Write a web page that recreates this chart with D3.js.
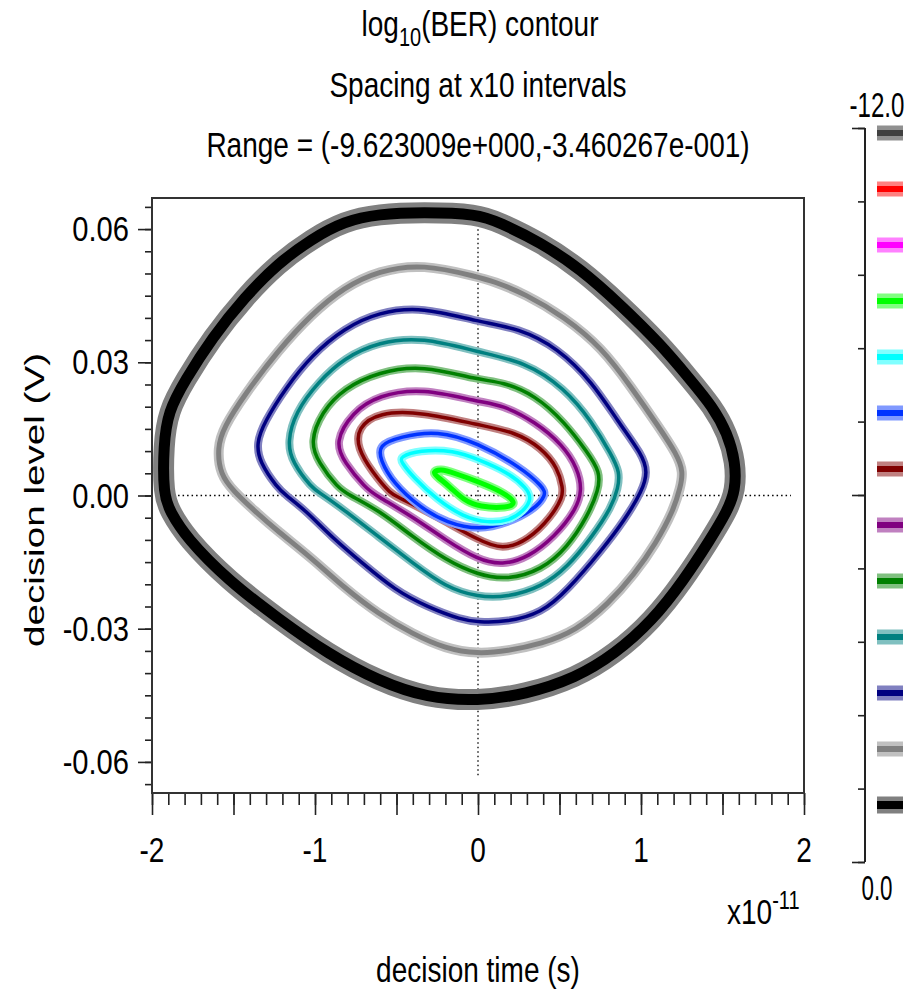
<!DOCTYPE html>
<html>
<head>
<meta charset="utf-8">
<script src="https://cdn.jsdelivr.net/npm/d3@7"></script>
<style>
  body { margin: 0; background: #fff; }
  text { font-family: "Liberation Sans", Arial, sans-serif; fill: #000; }
</style>
</head>
<body>
<div id="chart"></div>
<script>
var svgWidth = 912;
var svgHeight = 994;

var plot = { left: 152, right: 804, top: 198, bottom: 793 };

// axis domains and labels
var xDomain = [-2, 2];
var yDomain = [-0.067, 0.067];
var xTickLabels = [-2, -1, 0, 1, 2];
var yTickLabels = [0.06, 0.03, 0.00, -0.03, -0.06];

// contour levels, outermost first, with line colours (core + halo)
var levels = [0, -1, -2, -3, -4, -5, -6, -7, -8, -9, -10, -11, -12];
var coreColors = ["#000000", "#808080", "#000080", "#008080", "#008000", "#800080",
                  "#800000", "#0033ff", "#00ffff", "#00ff00", "#ff00ff", "#ff0000", "#404040"];
var haloColors = ["#808080", "#c0c0c0", "#8080c0", "#80c0c0", "#80c080", "#c080c0",
                  "#c08080", "#8099ff", "#80ffff", "#80ff80", "#ff80ff", "#ff8080", "#909090"];

// dotted crosshair
var crossV = [[0, -0.063], [0, 0.060]];
var crossH = [[-1.84, 0], [1.92, 0]];

// contour outlines: [time (x1e-11 s), level (V)]
var contour0 = [[0.00,0.0634],[-0.34,0.0638],[-0.61,0.0634],[-0.82,0.0618],[-1.02,0.0578],[-1.23,0.0522],
  [-1.43,0.0447],[-1.63,0.0356],[-1.80,0.0258],[-1.90,0.0190],[-1.93,0.0114],[-1.93,0.0001],[-1.89,-0.0035],
  [-1.79,-0.0095],[-1.53,-0.0192],[-1.23,-0.0276],[-0.92,-0.0357],[-0.61,-0.0418],[-0.31,-0.0456],[0.00,-0.0463],
  [0.29,-0.0448],[0.60,-0.0411],[0.84,-0.0357],[1.07,-0.0282],[1.26,-0.0192],[1.42,-0.0102],[1.53,-0.0035],
  [1.58,0.0012],[1.58,0.0075],[1.53,0.0140],[1.44,0.0200],[1.30,0.0262],[1.12,0.0341],[0.87,0.0431],
  [0.63,0.0510],[0.38,0.0571],[0.13,0.0615]];
var contour1 = [[0.00,0.0492],[-0.34,0.0522],[-0.61,0.0506],[-0.82,0.0469],[-1.02,0.0409],[-1.23,0.0325],
  [-1.43,0.0228],[-1.56,0.0154],[-1.60,0.0107],[-1.58,0.0046],[-1.50,0.0010],[-1.37,-0.0035],[-1.23,-0.0080],
  [-1.02,-0.0141],[-0.82,-0.0208],[-0.61,-0.0267],[-0.40,-0.0312],[-0.20,-0.0345],[0.00,-0.0357],[0.18,-0.0350],
  [0.39,-0.0334],[0.60,-0.0305],[0.80,-0.0244],[0.96,-0.0177],[1.09,-0.0109],[1.20,-0.0033],[1.24,0.0017],
  [1.26,0.0053],[1.22,0.0093],[1.11,0.0154],[0.94,0.0244],[0.76,0.0333],[0.53,0.0402],[0.29,0.0454],[0.09,0.0483]];
var contour2 = [[0.00,0.0391],[-0.34,0.0425],[-0.61,0.0413],[-0.82,0.0377],[-1.02,0.0316],[-1.18,0.0242],
  [-1.31,0.0166],[-1.36,0.0118],[-1.34,0.0075],[-1.23,0.0017],[-1.18,0.0001],[-1.06,-0.0033],[-0.90,-0.0093],
  [-0.71,-0.0152],[-0.51,-0.0213],[-0.31,-0.0251],[-0.10,-0.0280],[0.00,-0.0285],[0.18,-0.0285],[0.39,-0.0265],
  [0.55,-0.0213],[0.76,-0.0123],[0.90,-0.0055],[1.01,0.0012],[1.04,0.0053],[1.01,0.0091],[0.86,0.0166],
  [0.70,0.0256],[0.49,0.0332],[0.25,0.0377]];
var contour3 = [[0.00,0.0323],[-0.34,0.0357],[-0.61,0.0346],[-0.82,0.0310],[-0.98,0.0256],[-1.12,0.0188],
  [-1.17,0.0120],[-1.14,0.0075],[-1.02,0.0017],[-0.97,0.0006],[-0.82,-0.0033],[-0.61,-0.0093],[-0.40,-0.0152],
  [-0.20,-0.0206],[0.00,-0.0229],[0.18,-0.0229],[0.39,-0.0206],[0.55,-0.0161],[0.70,-0.0093],[0.82,-0.0026],
  [0.86,0.0017],[0.87,0.0053],[0.82,0.0091],[0.70,0.0166],[0.53,0.0242],[0.29,0.0301]];
var contour4 = [[0.00,0.0260],[-0.34,0.0294],[-0.61,0.0278],[-0.82,0.0242],[-0.96,0.0188],[-1.03,0.0120],
  [-0.98,0.0075],[-0.86,0.0017],[-0.79,0.0001],[-0.61,-0.0033],[-0.40,-0.0093],[-0.20,-0.0145],[0.00,-0.0179],
  [0.18,-0.0190],[0.39,-0.0168],[0.55,-0.0116],[0.67,-0.0048],[0.74,0.0012],[0.75,0.0053],[0.67,0.0098],
  [0.53,0.0166],[0.35,0.0226],[0.15,0.0256]];
var contour5 = [[0.00,0.0211],[-0.34,0.0242],[-0.61,0.0226],[-0.77,0.0188],[-0.88,0.0120],[-0.82,0.0075],
  [-0.69,0.0017],[-0.63,0.0001],[-0.40,-0.0048],[-0.20,-0.0100],[0.00,-0.0145],[0.15,-0.0157],[0.31,-0.0139],
  [0.47,-0.0093],[0.60,-0.0033],[0.64,0.0012],[0.61,0.0062],[0.52,0.0114],[0.35,0.0166],[0.15,0.0204]];
var contour6 = [[0.00,0.0159],[-0.34,0.0188],[-0.61,0.0188],[-0.74,0.0152],[-0.74,0.0107],[-0.65,0.0053],
  [-0.53,0.0001],[-0.49,-0.0003],[-0.25,-0.0048],[0.00,-0.0100],[0.15,-0.0123],[0.31,-0.0100],[0.45,-0.0048],
  [0.52,-0.0003],[0.52,0.0017],[0.49,0.0062],[0.39,0.0107],[0.23,0.0143]];
var contour7 = [[0.00,0.0118],[-0.25,0.0147],[-0.48,0.0132],[-0.61,0.0114],[-0.60,0.0080],[-0.52,0.0028],
  [-0.36,-0.0026],[-0.19,-0.0062],[0.01,-0.0078],[0.18,-0.0062],[0.34,-0.0033],[0.42,0.0001],[0.40,0.0019],
  [0.26,0.0064]];
var contour8 = [[-0.48,0.0087],[-0.36,0.0102],[-0.15,0.0102],[0.01,0.0080],[0.18,0.0053],[0.30,0.0017],
  [0.33,-0.0008],[0.28,-0.0035],[0.19,-0.0057],[0.06,-0.0062],[-0.09,-0.0048],[-0.25,-0.0010],[-0.40,0.0042],
  [-0.47,0.0075]];
var contour9 = [[-0.28,0.0053],[-0.23,0.0060],[-0.15,0.0051],[0.01,0.0030],[0.15,0.0008],[0.24,-0.0017],
  [0.18,-0.0028],[0.01,-0.0026],[-0.09,-0.0010],[-0.17,0.0019],[-0.25,0.0042]];

var contours = [contour0, contour1, contour2, contour3, contour4, contour5,
                contour6, contour7, contour8, contour9];
var coreWidths = [11, 5, 3.5, 3.5, 3.5, 3.5, 3.5, 3.5, 3.5, 5];
var haloWidths = [21, 10, 8, 8, 8, 8, 8, 8, 8, 9];

var svg = d3.select("#chart")
  .append("svg")
  .attr("width", svgWidth)
  .attr("height", svgHeight);

var xScale = d3.scaleLinear().domain(xDomain).range([plot.left, plot.right]);
var yScale = d3.scaleLinear().domain(yDomain).range([plot.bottom, plot.top]);

// text helper: the original render is stretched vertically
function addText(x, y, str, anchor, sx, sy) {
  return svg.append("text")
    .attr("transform", `translate(${x},${y}) scale(${sx || 1},${sy || 1.25})`)
    .attr("text-anchor", anchor || "middle")
    .style("font-size", "28px")
    .text(str);
}

// titles
var t1 = svg.append("text")
  .attr("transform", "translate(480,36) scale(1,1.25)")
  .attr("text-anchor", "middle")
  .style("font-size", "28px");
t1.append("tspan").text("log");
t1.append("tspan").attr("dy", 8).style("font-size", "20px").text("10");
t1.append("tspan").attr("dy", -8).text("(BER) contour");
addText(478, 97, "Spacing at x10 intervals");
addText(478, 157, "Range = (-9.623009e+000,-3.460267e-001)");

// axes ticks
function tickAxis(axisFn, values, size, transform) {
  var g = svg.append("g")
    .attr("transform", transform)
    .call(axisFn.tickValues(values).tickSize(size).tickFormat(""));
  g.select(".domain").remove();
  g.selectAll("line").attr("stroke", "#222").attr("stroke-width", 1.6);
  return g;
}
var xMinor = d3.range(-20, 21).map(d => d / 10);
var xMid = d3.range(-4, 5).map(d => d / 2);
var yMinor = d3.range(-13, 14).map(d => d * 0.005);
tickAxis(d3.axisBottom(xScale), xMinor, 12, `translate(0,${plot.bottom})`);
tickAxis(d3.axisBottom(xScale), xMid, 22, `translate(0,${plot.bottom})`);
tickAxis(d3.axisLeft(yScale), yMinor, 7, `translate(${plot.left},0)`);
tickAxis(d3.axisLeft(yScale), yTickLabels, 14, `translate(${plot.left},0)`);

// tick labels (plain hyphen minus, as in the original)
xTickLabels.forEach(function(v) {
  addText(xScale(v), 862, String(v));
});
yTickLabels.forEach(function(v) {
  addText(129, yScale(v) + 12, v.toFixed(2), "end", 1.04);
});

// axis titles
var xe = svg.append("text")
  .attr("transform", "translate(727,924) scale(1,1.25)")
  .style("font-size", "28px");
xe.append("tspan").text("x10");
xe.append("tspan").attr("dy", -12).style("font-size", "20px").text("-11");
addText(478, 982, "decision time (s)");
svg.append("text")
  .attr("transform", "translate(44,500) rotate(-90) scale(1.38,1)")
  .attr("text-anchor", "middle")
  .style("font-size", "28px")
  .text("decision level (V)");

// dotted crosshair
var line = d3.line().x(d => xScale(d[0])).y(d => yScale(d[1]));
[crossV, crossH].forEach(function(c) {
  svg.append("path")
    .attr("d", line(c))
    .attr("fill", "none")
    .attr("stroke", "#000")
    .attr("stroke-width", 1.3)
    .attr("stroke-dasharray", "1.5,3");
});

// contours
var contourLine = d3.line()
  .x(d => xScale(d[0]))
  .y(d => yScale(d[1]))
  .curve(d3.curveBasisClosed);

var contourGroup = svg.append("g");
contours.forEach(function(pts, i) {
  contourGroup.append("path")
    .attr("d", contourLine(pts))
    .attr("fill", "none")
    .attr("stroke", haloColors[i])
    .attr("stroke-width", haloWidths[i])
    .attr("stroke-linejoin", "round");
  contourGroup.append("path")
    .attr("d", contourLine(pts))
    .attr("fill", "none")
    .attr("stroke", coreColors[i])
    .attr("stroke-width", coreWidths[i])
    .attr("stroke-linejoin", "round");
});

// plot frame
svg.append("rect")
  .attr("x", plot.left)
  .attr("y", plot.top)
  .attr("width", plot.right - plot.left)
  .attr("height", plot.bottom - plot.top)
  .attr("fill", "none")
  .attr("stroke", "#333")
  .attr("stroke-width", 2);

// colour key
var cbScale = d3.scaleLinear().domain([0, -12]).range([862, 128]);
var swatchY = d3.scalePoint().domain(levels).range([805, 133]);
var cbMinor = d3.range(0, 11).map(d => -d * 1.2);
var cbMajor = [0, -6, -12];
tickAxis(d3.axisLeft(cbScale), cbMinor, 7, "translate(865,0)");
tickAxis(d3.axisLeft(cbScale), cbMajor, 13, "translate(865,0)");
svg.append("line")
  .attr("x1", 865).attr("x2", 865)
  .attr("y1", cbScale(0)).attr("y2", cbScale(-12))
  .attr("stroke", "#222").attr("stroke-width", 2);

levels.forEach(function(lv, i) {
  var h = i === 0 ? 17 : 15;
  var c = i === 0 ? 8 : 6;
  svg.append("rect")
    .attr("x", 877).attr("width", 26)
    .attr("y", swatchY(lv) - h / 2).attr("height", h)
    .attr("fill", haloColors[i]);
  svg.append("rect")
    .attr("x", 877).attr("width", 26)
    .attr("y", swatchY(lv) - c / 2).attr("height", c)
    .attr("fill", coreColors[i]);
});
addText(877, 117, "-12.0", "middle", 0.86);
addText(877, 900, "0.0", "middle", 0.8);
</script>
</body>
</html>
